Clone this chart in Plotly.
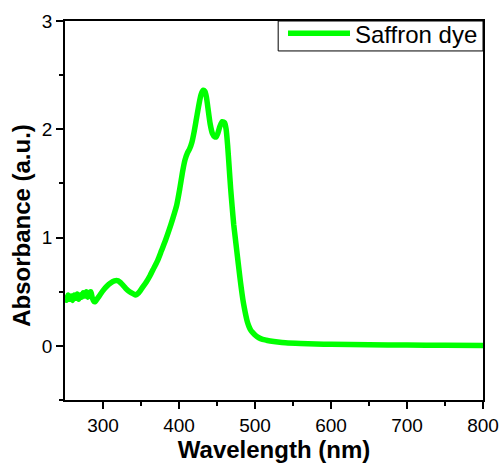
import plotly.graph_objects as go

wavelength = [250, 252, 254, 256, 258, 260, 262, 264, 266, 268, 270, 272, 274, 276, 278, 280,
              282, 284, 286, 288, 290, 293, 296, 300, 305, 310, 315, 320, 325, 330, 335, 340,
              343, 347, 352, 357, 362, 367, 372, 377, 382, 387, 392, 397, 401, 405, 408, 411,
              414, 417, 420, 423, 426, 429, 432, 434, 436, 438, 441, 444, 447, 449, 451, 454,
              457, 460, 462, 464, 466, 468, 470, 472, 474, 476, 478, 480, 482, 484, 486, 488,
              490, 492, 494, 496, 498, 500, 505, 510, 515, 520, 530, 540, 560, 580, 600, 650, 700,
              750, 800]
absorbance = [0.44, 0.42, 0.47, 0.43, 0.46, 0.42, 0.47, 0.44, 0.48, 0.43, 0.47, 0.45, 0.49, 0.46, 0.50, 0.45,
              0.49, 0.50, 0.44, 0.41, 0.41, 0.44, 0.47, 0.51, 0.55, 0.58, 0.60, 0.60, 0.57, 0.53, 0.50, 0.48,
              0.47, 0.49, 0.54, 0.59, 0.65, 0.72, 0.79, 0.88, 0.97, 1.07, 1.18, 1.30, 1.45, 1.62, 1.72, 1.78,
              1.82, 1.88, 1.98, 2.10, 2.22, 2.32, 2.36, 2.35, 2.30, 2.20, 2.05, 1.96, 1.93, 1.93, 1.96, 2.03,
              2.07, 2.06, 2.00, 1.85, 1.65, 1.45, 1.28, 1.12, 1.00, 0.88, 0.76, 0.64, 0.53, 0.43, 0.35, 0.28,
              0.22, 0.18, 0.15, 0.13, 0.115, 0.10, 0.075, 0.06, 0.052, 0.045, 0.035, 0.028, 0.021, 0.017, 0.014, 0.010, 0.007,
              0.005, 0.003]

x_ticks = [300, 400, 500, 600, 700, 800]
y_ticks = [0, 1, 2, 3]

fig = go.Figure()
fig.add_trace(go.Scatter(
    x=wavelength, y=absorbance, mode="lines", name="Saffron dye",
    line=dict(color="#00FF00", width=5.5, shape="spline", smoothing=0.6),
))

font_family = "Liberation Sans, Arial, sans-serif"

fig.update_layout(
    width=503, height=463,
    margin=dict(l=65, r=20, t=21, b=63, autoexpand=False),
    paper_bgcolor="white", plot_bgcolor="white",
    font=dict(family=font_family, color="black"),
    showlegend=True,
    legend=dict(x=1, y=1.026, xanchor="right", yanchor="top",
                borderwidth=0, bgcolor="rgba(0,0,0,0)",
                font=dict(size=24, family=font_family),
                itemwidth=62, tracegroupgap=0),
    shapes=[dict(type="rect", xref="paper", yref="paper",
                 x0=0.51, x1=1.0, y0=0.921, y1=1.0,
                 line=dict(color="black", width=1), layer="below")],
    annotations=[dict(text="<b>Absorbance (a.u.)</b>", xref="paper", yref="paper",
                      x=-0.103, y=0.462, xanchor="center", yanchor="middle",
                      textangle=-90, showarrow=False,
                      font=dict(size=24, family=font_family, color="black"))],
)

fig.update_xaxes(
    range=[250, 800], tickvals=x_ticks, ticktext=[str(v) for v in x_ticks],
    showgrid=False, zeroline=False, automargin=False,
    showline=True, linecolor="black", linewidth=1.5, mirror=True,
    ticks="outside", ticklen=7, tickwidth=1.5, tickcolor="black",
    tickfont=dict(size=19, family=font_family),
    minor=dict(tickvals=[350, 450, 550, 650, 750], ticks="outside", ticklen=4, tickwidth=1.5, tickcolor="black"),
    title=dict(text="<b>Wavelength (nm)</b>", font=dict(size=24, family=font_family), standoff=4),
)
fig.update_yaxes(
    range=[-0.5, 3], tickvals=y_ticks, ticktext=[str(v) for v in y_ticks],
    showgrid=False, zeroline=False, automargin=False,
    showline=True, linecolor="black", linewidth=1.5, mirror=True,
    ticks="outside", ticklen=7, tickwidth=1.5, tickcolor="black",
    tickfont=dict(size=19, family=font_family),
    minor=dict(tickvals=[-0.5, 0.5, 1.5, 2.5], ticks="outside", ticklen=4, tickwidth=1.5, tickcolor="black"),
)

fig.write_html("out.html")
